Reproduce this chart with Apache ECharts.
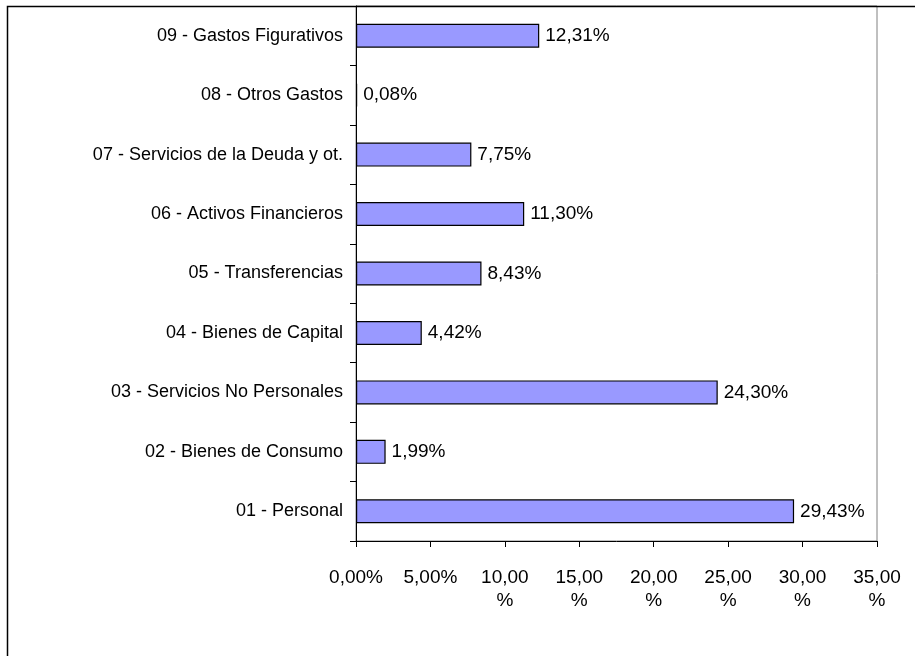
<!DOCTYPE html>
<html><head><meta charset="utf-8">
<script src="https://cdn.jsdelivr.net/npm/echarts@6/dist/echarts.min.js"></script>
<style>html,body{margin:0;padding:0;background:#fff}#c{width:915px;height:656px}</style>
</head><body><div id="c"></div>
<script>
const categories = ['01 - Personal','02 - Bienes de Consumo','03 - Servicios No Personales','04 - Bienes de Capital','05 - Transferencias','06 - Activos Financieros','07 - Servicios de la Deuda y ot.','08 - Otros Gastos','09 - Gastos Figurativos'];
const values = [29.43, 1.99, 24.30, 4.42, 8.43, 11.30, 7.75, 0.08, 12.31];
const tickLabels = ['0,00%','5,00%','10,00\n%','15,00\n%','20,00\n%','25,00\n%','30,00\n%','35,00\n%'];

const chart = echarts.init(document.getElementById('c'));
const font = '"Liberation Sans", Arial, sans-serif';
chart.setOption({
  animation: false,
  grid: {left: 356, right: 38, top: 6, bottom: 115, show: true, borderColor: '#808080', borderWidth: 1, backgroundColor: 'transparent'},
  xAxis: {
    type: 'value', min: 0, max: 35, interval: 5,
    axisLine: {show: true, lineStyle: {color: '#000', width: 1}},
    axisTick: {show: true, length: 6, lineStyle: {color: '#000'}},
    splitLine: {show: false},
    axisLabel: {
      color: '#000', fontFamily: font, fontSize: 19, margin: 25, lineHeight: 23,
      verticalAlign: 'top', align: 'center',
      formatter: v => tickLabels[Math.round(v / 5)]
    }
  },
  yAxis: {
    type: 'category', data: categories,
    axisLine: {show: true, lineStyle: {color: '#000', width: 1}},
    axisTick: {show: true, length: 6, lineStyle: {color: '#000'}},
    axisLabel: {color: '#000', fontFamily: font, fontSize: 18, margin: 13}
  },
  series: [{
    type: 'bar', data: values, barWidth: 24,
    itemStyle: {color: '#9999FF', borderColor: '#000', borderWidth: 1.2},
    label: {show: true, position: 'right', distance: 6, color: '#000', fontFamily: font, fontSize: 19,
      formatter: p => p.value.toFixed(2).replace('.', ',') + '%'}
  }],
  graphic: [{type: 'rect', z: 100, silent: true,
    shape: {x: 7.5, y: 6.5, width: 940, height: 700}, style: {fill: 'none', stroke: '#000', lineWidth: 1.5}}]
});
</script></body></html>
